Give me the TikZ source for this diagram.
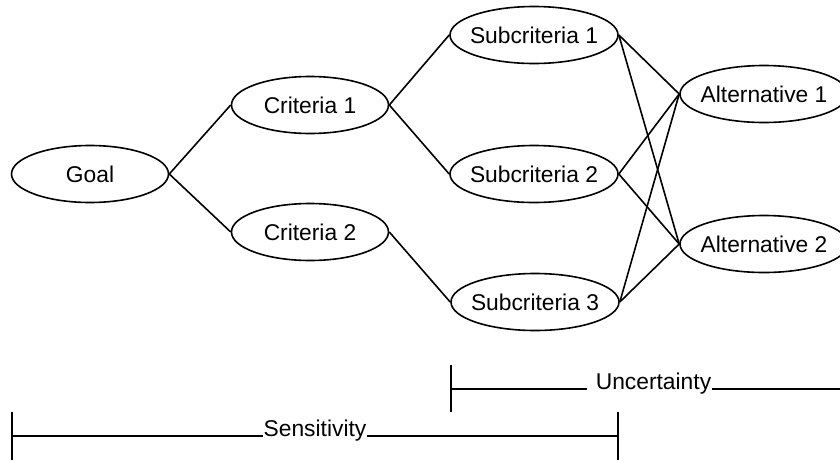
\documentclass[tikz,border=0pt]{standalone}
\usepackage{fontspec}
\setmainfont{Liberation Sans}
\usetikzlibrary{shapes.geometric}
\newcommand{\ellabel}[1]{\makebox[0pt]{#1}}

\begin{document}
\begin{tikzpicture}[x=1pt,y=-1pt,line width=1.6pt,
    every node/.style={font=\fontsize{22.8}{27}\selectfont},
    hier/.style={ellipse,draw,inner sep=0pt,minimum width=157pt,minimum height=57pt},
    wide/.style={hier,minimum width=168pt},
    span/.style={inner sep=0pt,anchor=base}]
    \useasboundingbox (0,0) rectangle (840,461);

    % Goal and criteria
    \node[hier] (goal) at (90,174) {\ellabel{Goal}};
    \node[hier] (crit1) at (310,105) {\ellabel{Criteria 1}};
    \node[hier] (crit2) at (310,232) {\ellabel{Criteria 2}};

    % Subcriteria
    \node[wide] (sub1) at (534,35) {\ellabel{Subcriteria 1}};
    \node[wide] (sub2) at (534,174) {\ellabel{Subcriteria 2}};
    \node[wide] (sub3) at (535,302) {\ellabel{Subcriteria 3}};

    % Alternatives
    \node[wide] (alt1) at (764,94) {\ellabel{Alternative 1}};
    \node[wide] (alt2) at (764,244) {\ellabel{Alternative 2}};

    % Links
    \draw (goal.east) -- (crit1.west);
    \draw (goal.east) -- (crit2.west);
    \draw (crit1.east) -- (sub1.west);
    \draw (crit1.east) -- (sub2.west);
    \draw (crit2.east) -- (sub3.west);
    \foreach \s in {sub1,sub2,sub3} {
        \draw (\s.east) -- (alt1.west);
        \draw (\s.east) -- (alt2.west);
    }

    % Uncertainty span
    \coordinate (uleft) at (451,389);
    \coordinate (uright) at (840,389);
    \node[span] (unc) at (653.5,389) {Uncertainty};
    \draw ([yshift=-23pt]uleft) -- ([yshift=24pt]uleft);
    \draw (uleft) -- ([xshift=-8pt]unc.base west);
    \draw (unc.base east) -- (uright);

    % Sensitivity span
    \coordinate (sleft) at (12,436);
    \coordinate (sright) at (618,436);
    \node[span] (sens) at (315,436) {Sensitivity};
    \draw ([yshift=-24pt]sleft) -- ([yshift=24pt]sleft);
    \draw ([yshift=-24pt]sright) -- ([yshift=24pt]sright);
    \draw (sleft) -- (sens.base west);
    \draw (sens.base east) -- (sright);
\end{tikzpicture}
\end{document}
